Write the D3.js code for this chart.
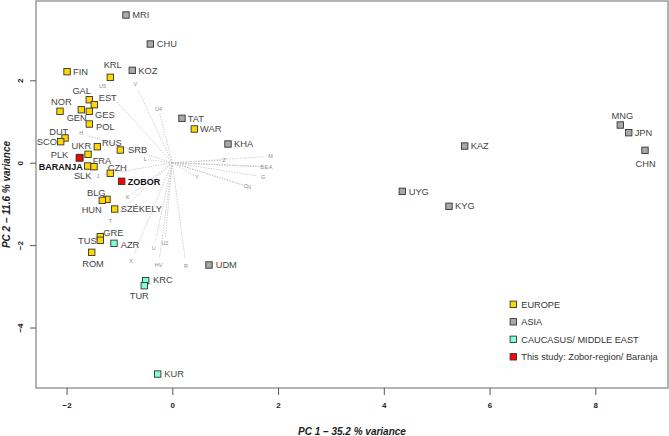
<!DOCTYPE html>
<html>
<head>
<meta charset="utf-8">
<script src="https://cdnjs.cloudflare.com/ajax/libs/d3/7.8.5/d3.min.js"></script>
<style>
body { margin: 0; background: #fff; }
svg { display: block; font-family: "Liberation Sans", Arial, sans-serif; }
</style>
</head>
<body>
<div id="chart"></div>
<script>
// groups + colours
var groups = ["EUROPE", "ASIA", "CAUCASUS/ MIDDLE EAST", "This study: Zobor-region/ Baranja"];
var groupColors = ["#ffd700", "#a9a9a9", "#7fffd4", "#ff0000"];

// populations (PC scores)
var popNames = ["MRI", "CHU", "KOZ", "FIN", "KRL", "GAL", "EST", "NOR", "GEN", "GES", "POL", "TAT", "WAR",
  "DUT", "SCO", "UKR", "RUS", "SRB", "PLK", "BARANJA", "SLK", "FRA", "CZH", "ZOBOR", "BLG", "HUN",
  "SZÉKELY", "GRE", "TUS", "AZR", "ROM", "UDM", "KRC", "TUR", "KUR", "KHA", "MNG", "JPN", "CHN",
  "KAZ", "UYG", "KYG"];
var popGroup = [1, 1, 1, 0, 0, 0, 0, 0, 0, 0, 0, 1, 0,
  0, 0, 0, 0, 0, 0, 3, 0, 0, 0, 3, 0, 0,
  0, 0, 0, 2, 0, 1, 2, 2, 2, 1, 1, 1, 1,
  1, 1, 1];
var pc1 = [-0.876, -0.416, -0.757, -1.991, -1.173, -1.570, -1.475, -2.124, -1.721, -1.570, -1.570, 0.183, 0.416,
  -2.029, -2.111, -1.594, -1.418, -0.983, -1.746, -1.759, -1.600, -1.481, -1.173, -0.957, -1.235, -1.324,
  -1.089, -1.362, -1.362, -1.103, -1.524, 0.694, -0.503, -0.530, -0.276, 1.053, 8.473, 8.632, 8.940,
  5.530, 4.350, 5.233];
var pc2 = [3.585, 2.881, 2.243, 2.209, 2.073, 1.529, 1.408, 1.248, 1.286, 1.248, 0.939, 1.078, 0.818,
  0.600, 0.510, 0.204, 0.388, 0.308, 0.126, 0.114, -0.080, -0.097, -0.257, -0.451, -0.888, -0.913,
  -1.124, -1.796, -1.883, -1.956, -2.175, -2.483, -2.864, -2.985, -5.129, 0.454, 0.915, 0.728, 0.301,
  0.405, -0.694, -1.058];

// haplogroup loadings (label positions)
var hgNames = ["V", "U5", "U4", "H", "L", "J", "K", "T", "X", "U", "U2", "HV", "R", "Y", "Z", "M", "B", "E", "A", "G", "C", "N"];
var hgPC1 = [-0.70, -1.32, -0.26, -1.72, -0.51, -1.41, -0.84, -1.17, -0.78, -0.35, -0.14, -0.26, 0.26, 0.47, 0.98, 1.86, 1.70, 1.78, 1.86, 1.72, 1.39, 1.45];
var hgPC2 = [1.91, 1.86, 1.31, 0.71, 0.08, -0.32, -0.84, -1.41, -2.39, -2.08, -1.94, -2.48, -2.50, -0.35, 0.06, 0.155, -0.10, -0.10, -0.10, -0.34, -0.57, -0.58];

var xTicks = [-2, 0, 2, 4, 6, 8];
var yTicks = [-4, -2, 0, 2];
var xTitle = "PC 1 \u2013  35.2 % variance";
var yTitle = "PC 2 \u2013  11.6 % variance";

// label placement: [dx, dy, anchor] in px from the square centre
var labelPlace = {
  MRI: [6.3, 0, "start"], CHU: [6.4, 0, "start"], KOZ: [6, 0, "start"], FIN: [6, 0, "start"],
  KRL: [2.4, -13, "middle"], GAL: [-7.6, -9, "middle"], EST: [4.4, -7, "start"], NOR: [1.3, -9.3, "middle"],
  GEN: [-4.6, 8.3, "middle"], GES: [5.7, 3, "start"], POL: [6.7, 2.7, "start"], TAT: [5.7, 0, "start"],
  WAR: [5.7, 0, "start"], DUT: [-6.3, -6, "middle"], SCO: [-3.7, 0, "end"], UKR: [-6.7, -8.3, "middle"],
  RUS: [4.7, -4, "start"], SRB: [7.7, 0, "start"], PLK: [-11.7, -3, "end"], BARANJA: [3.4, 8.7, "end"],
  SLK: [-5, 10, "middle"], FRA: [-1.3, -6, "start"], CZH: [7, -5.3, "middle"], ZOBOR: [6, 0.4, "start"],
  BLG: [-10.7, -6.6, "middle"], HUN: [-10.6, 9, "middle"], "SZÉKELY": [6, 0, "start"], GRE: [3, -4.4, "start"],
  TUS: [-3.6, 0.4, "end"], AZR: [6.7, 1, "start"], ROM: [1.3, 11.4, "middle"], UDM: [6.7, 0, "start"],
  KRC: [7.3, -0.7, "start"], TUR: [-5, 10.3, "middle"], KUR: [6.6, -0.7, "start"], KHA: [6, 0, "start"],
  MNG: [2, -9, "middle"], JPN: [6, -0.4, "start"], CHN: [0.7, 13, "middle"], KAZ: [6, 0, "start"],
  UYG: [6.4, 0, "start"], KYG: [6, -0.3, "start"]
};

var W = 669, H = 436;
var box = {left: 36, right: 668, top: 1, bottom: 388};

var x = d3.scaleLinear().domain([-2.578, 9.375]).range([box.left, box.right]);
var y = d3.scaleLinear().domain([-5.468, 3.925]).range([box.bottom, box.top]);

var svg = d3.select("#chart").append("svg")
  .attr("width", W)
  .attr("height", H);

// loading vectors
var hg = hgNames.map(function(n, i) { return {name: n, x: hgPC1[i], y: hgPC2[i]}; });
svg.append("g").selectAll("line").data(hg).enter().append("line")
  .attr("x1", x(0)).attr("y1", y(0))
  .attr("x2", function(d) { return x(d.x * 0.93); })
  .attr("y2", function(d) { return y(d.y * 0.93); })
  .style("stroke", "#c4c4c4")
  .style("stroke-width", 0.9)
  .style("stroke-dasharray", "1.3,1.3");
svg.append("g").selectAll("text").data(hg).enter().append("text")
  .attr("x", function(d) { return x(d.x); })
  .attr("y", function(d) { return y(d.y); })
  .attr("dy", "0.35em")
  .attr("text-anchor", "middle")
  .style("font-size", "5.5px")
  .style("fill", "#8a8a8a")
  .text(function(d) { return d.name; });

// population labels, then squares on top
var pops = popNames.map(function(n, i) { return {name: n, g: popGroup[i], x: pc1[i], y: pc2[i]}; });
svg.append("g").selectAll("text").data(pops).enter().append("text")
  .attr("x", function(d) { return x(d.x) + labelPlace[d.name][0]; })
  .attr("y", function(d) { return y(d.y) + labelPlace[d.name][1]; })
  .attr("dy", "0.35em")
  .attr("text-anchor", function(d) { return labelPlace[d.name][2]; })
  .style("font-size", function(d) { return d.g === 3 ? "9px" : "9.3px"; })
  .style("font-weight", function(d) { return d.g === 3 ? "bold" : "normal"; })
  .style("fill", function(d) { return d.g === 3 ? "#111" : "#444"; })
  .text(function(d) { return d.name; });

var sq = 6.4;
svg.append("g").selectAll("rect").data(pops).enter().append("rect")
  .attr("x", function(d) { return x(d.x) - sq / 2; })
  .attr("y", function(d) { return y(d.y) - sq / 2; })
  .attr("width", sq).attr("height", sq)
  .style("fill", function(d) { return groupColors[d.g]; })
  .style("stroke", "#333")
  .style("stroke-width", 0.9);

// box
svg.append("rect")
  .attr("x", box.left).attr("y", box.top)
  .attr("width", box.right - box.left).attr("height", box.bottom - box.top)
  .style("fill", "none").style("stroke", "#8c8c8c").style("stroke-width", 1.3);

// axes
var xAxisG = svg.append("g")
  .attr("transform", "translate(0," + box.bottom + ")")
  .call(d3.axisBottom(x).tickValues(xTicks).tickSize(7).tickPadding(7));
var yAxisG = svg.append("g")
  .attr("transform", "translate(" + box.left + ",0)")
  .call(d3.axisLeft(y).tickValues(yTicks).tickSize(6));
[xAxisG, yAxisG].forEach(function(g) {
  g.select(".domain").remove();
  g.selectAll("line").style("stroke", "#555");
  g.selectAll("text").style("font-size", "8px").style("font-weight", "bold")
    .style("fill", "#222").style("font-family", "'Liberation Sans', Arial, sans-serif");
});
yAxisG.selectAll("text")
  .attr("x", null).attr("dy", null)
  .attr("text-anchor", "middle")
  .attr("transform", "translate(-16,0) rotate(-90)")
  .attr("y", 3);

// titles
svg.append("text")
  .attr("x", (box.left + box.right) / 2).attr("y", 435)
  .attr("text-anchor", "middle")
  .style("font-size", "10px").style("font-weight", "bold").style("font-style", "italic")
  .style("fill", "#222")
  .text(xTitle);
svg.append("text")
  .attr("transform", "translate(10," + ((box.top + box.bottom) / 2) + ") rotate(-90)")
  .attr("text-anchor", "middle")
  .style("font-size", "10px").style("font-weight", "bold").style("font-style", "italic")
  .style("fill", "#222")
  .text(yTitle);

// legend
var legend = svg.append("g").attr("transform", "translate(513.3,304.3)");
groups.forEach(function(name, i) {
  var row = legend.append("g").attr("transform", "translate(0," + (i * 17.5) + ")");
  row.append("rect")
    .attr("x", -3.2).attr("y", -3.2).attr("width", 6.4).attr("height", 6.4)
    .style("fill", groupColors[i]).style("stroke", "#333").style("stroke-width", 0.9);
  row.append("text")
    .attr("x", 8).attr("dy", "0.35em")
    .style("font-size", "9.2px").style("fill", "#333")
    .text(name);
});
</script>
</body>
</html>
